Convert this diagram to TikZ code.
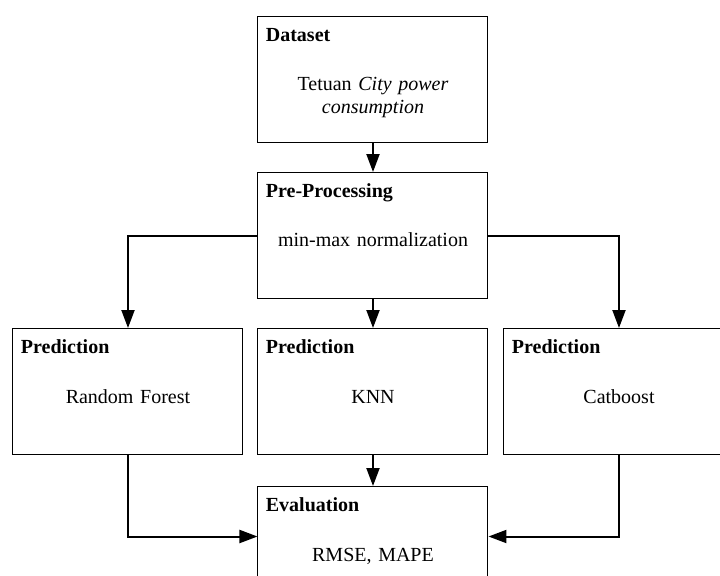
\documentclass[tikz,border=0pt]{standalone}
\usepackage{fontspec}
\setmainfont{Liberation Serif}
\usetikzlibrary{arrows.meta, positioning}

\begin{document}
\begin{tikzpicture}[
    node distance=14.5pt and 7pt,
    box/.style={rectangle, draw, line width=0.5pt, minimum width=115pt, minimum height=63pt, inner sep=0pt},
    title/.style={anchor=base west, inner sep=0pt, font=\fontsize{10}{11.5}\selectfont\bfseries},
    body/.style={anchor=base, inner sep=0pt, text width=110pt, align=center, font=\fontsize{10}{11.5}\selectfont},
    arrow/.style={-{Triangle[length=9pt, width=6.5pt]}, line width=1pt}
]
\useasboundingbox (0,0) rectangle (360pt,-287.5pt);

% Boxes
\node[box, anchor=north] (data) at (186.5pt,-8pt) {};
\node[box, below=of data] (prep) {};
\node[box, below=of prep] (knn) {};
\node[box, left=of knn] (rf) {};
\node[box, right=7.5pt of knn] (cat) {};
\node[box, below=15.5pt of knn] (eval) {};

% Titles
\node[title] (datat) at ([shift={(4pt,-12.8pt)}]data.north west) {Dataset};
\node[title] (prept) at ([shift={(4pt,-12.8pt)}]prep.north west) {Pre-Processing};
\node[title] (rft) at ([shift={(4pt,-12.8pt)}]rf.north west) {Prediction};
\node[title] (knnt) at ([shift={(4pt,-12.8pt)}]knn.north west) {Prediction};
\node[title] (catt) at ([shift={(4pt,-12.8pt)}]cat.north west) {Prediction};
\node[title] (evalt) at ([shift={(4pt,-12.8pt)}]eval.north west) {Evaluation};

% Contents
\node[body] (datab) at ([yshift=-37.3pt]data.north) {Tetuan \textit{City power}\\\textit{consumption}};
\node[body] (prepb) at ([yshift=-37.3pt]prep.north) {min-max normalization};
\node[body] (rfb) at ([yshift=-37.8pt]rf.north) {Random Forest};
\node[body] (knnb) at ([yshift=-37.8pt]knn.north) {KNN};
\node[body] (catb) at ([yshift=-37.8pt]cat.north) {Catboost};
\node[body] (evalb) at ([yshift=-37.8pt]eval.north) {RMSE, MAPE};

% Arrows
\draw[arrow] (data) -- (prep);
\draw[arrow] (prep) -- (knn);
\draw[arrow] (prep.west) -| (rf.north);
\draw[arrow] (prep.east) -| (cat.north);
\draw[arrow] (knn) -- (eval);
\draw[arrow] (rf.south) |- ([yshift=6.5pt]eval.west);
\draw[arrow] (cat.south) |- ([yshift=6.5pt]eval.east);

\end{tikzpicture}
\end{document}
